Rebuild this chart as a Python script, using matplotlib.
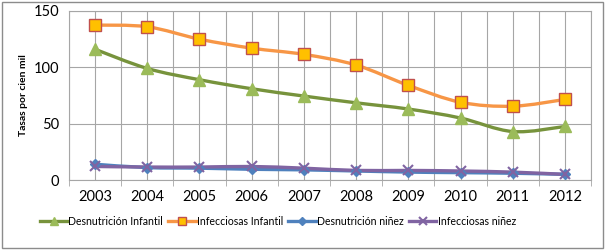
import numpy as np
import matplotlib
matplotlib.use("Agg")
import matplotlib.pyplot as plt
from matplotlib.path import Path
from matplotlib.patches import PathPatch, Rectangle
from matplotlib.lines import Line2D

plt.rcParams['font.family'] = ['Lato', 'DejaVu Sans']

anios = ['2003', '2004', '2005', '2006', '2007', '2008', '2009', '2010', '2011', '2012']
desnutricion_infantil = [116, 99, 89, 81, 74.5, 68.5, 63, 55, 43, 47.5]
infecciosas_infantil = [137.5, 136, 125, 117, 111.5, 102, 84, 69, 65.5, 71.5]
desnutricion_ninez = [14, 11, 10.5, 9.5, 9, 8, 7, 6.5, 6, 5]
infecciosas_ninez = [12, 11.5, 11.5, 12, 10.5, 8.5, 8.5, 8, 7, 5]


def curva_suave(ax, x, y, color, lw):
    # Bezier suavizado estilo Excel (control points desde los datos)
    x = np.asarray(x, float)
    y = np.asarray(y, float)
    verts = [(x[0], y[0])]
    codes = [Path.MOVETO]
    n = len(x)
    for i in range(n - 1):
        p0 = (x[i - 1], y[i - 1]) if i > 0 else (x[i], y[i])
        p1 = (x[i], y[i])
        p2 = (x[i + 1], y[i + 1])
        p3 = (x[i + 2], y[i + 2]) if i + 2 < n else (x[i + 1], y[i + 1])
        t = 1 / 6
        c1 = (p1[0] + (p2[0] - p0[0]) * t, p1[1] + (p2[1] - p0[1]) * t)
        c2 = (p2[0] - (p3[0] - p1[0]) * t, p2[1] - (p3[1] - p1[1]) * t)
        verts += [c1, c2, p2]
        codes += [Path.CURVE4] * 3
    ax.add_patch(PathPatch(Path(verts, codes), fill=False, edgecolor=color,
                           lw=lw, capstyle='round', joinstyle='round', zorder=3))


fig = plt.figure(figsize=(6.05, 2.5), dpi=100)
ax = fig.add_axes([0.114, 0.28, 0.863, 0.676])

x = np.arange(len(anios))
series = [
    ('Desnutrición Infantil', desnutricion_infantil, '#77933C', dict(marker='^', ms=8, mfc='#9BBB59', mec='#9BBB59')),
    ('Infecciosas Infantil', infecciosas_infantil, '#F79646', dict(marker='s', ms=8, mfc='#FFC000', mec='#C0504D', mew=1)),
    ('Desnutrición niñez', desnutricion_ninez, '#4F81BD', dict(marker='D', ms=5, mfc='#4F81BD', mec='#4F81BD')),
    ('Infecciosas niñez', infecciosas_ninez, '#8064A2', dict(marker='x', ms=7, mfc='#8064A2', mec='#8064A2', mew=1.5)),
]
handles = []
for nombre, vals, col, mk in series:
    curva_suave(ax, x, vals, col, 2.4)
    ax.plot(x, vals, linestyle='none', zorder=4, **mk)
    handles.append(Line2D([], [], color=col, lw=2.4, label=nombre, **mk))

ax.set_xlim(-0.5, len(anios) - 0.5)
ax.set_ylim(0, 150)
ax.set_yticks([0, 50, 100, 150])
ax.set_xticks(x)
ax.set_xticklabels(anios)
ax.set_xticks(np.arange(-0.5, len(anios), 1), minor=True)
ax.grid(True, which='both', axis='x', color='#A6A6A6', lw=0.8)
ax.grid(True, which='major', axis='y', color='#A6A6A6', lw=0.8)
ax.set_axisbelow(True)
ax.tick_params(axis='both', which='major', labelsize=10.5, length=0, pad=7)
ax.tick_params(axis='x', which='minor', length=4, color='#A6A6A6')
for s in ax.spines.values():
    s.set_color('#A6A6A6')
    s.set_linewidth(0.8)
ax.set_ylabel('Tasas por cien mil', fontsize=7.5, fontweight='bold', labelpad=4)

fig.legend(handles=handles, loc='center left', bbox_to_anchor=(0.066, 0.114), ncol=4,
           frameon=False, prop={'family': ['Liberation Sans Narrow', 'Lato'], 'size': 7.6},
           handlelength=2.6, handletextpad=0.1,
           columnspacing=0.5, markerscale=0.75, borderaxespad=0, borderpad=0)

fig.patches.append(Rectangle((0.004, 0.008), 0.992, 0.984, transform=fig.transFigure,
                             fill=False, edgecolor='#8C8C8C', lw=1))

fig.savefig('out.png', dpi=100)
